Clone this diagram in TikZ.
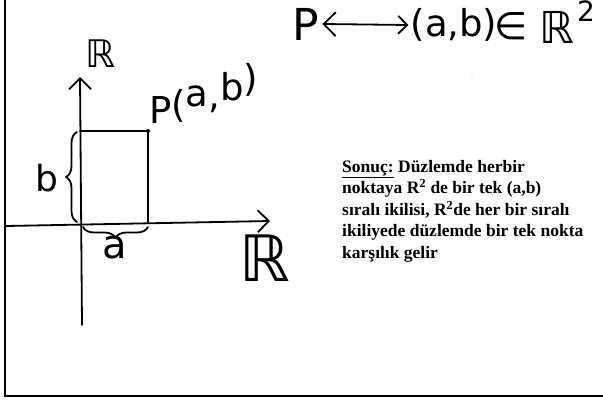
\documentclass[tikz,border=0pt]{standalone}
\usepackage{fontspec}
\setmainfont{Liberation Serif}
\newfontfamily\handfont{DejaVu Sans}
\usetikzlibrary{decorations.pathreplacing,arrows.meta}
\begin{document}
\begin{tikzpicture}[x=1pt,y=-1pt,
  hand/.style={line width=1.8pt, line cap=round, line join=round},
  barb/.style={-{Straight Barb[length=11pt,width=22pt,line width=1.8pt]}},
  dbarb/.style={{Straight Barb[length=12pt,width=24pt,line width=1.8pt]}-{Straight Barb[length=9pt,width=18pt,line width=1.8pt]}},
  lab/.style={inner sep=0pt, font=\handfont},
  brc/.style={hand, decorate, decoration={brace, amplitude=11pt, aspect=0.5}}]
\useasboundingbox (0,0) rectangle (603,401);
% frame
\draw[line width=2pt] (5,0) -- (5,396) -- (603,396);
% axes
\coordinate (ybot) at (82,325);
\coordinate (ytop) at (80,77);
\coordinate (xl) at (6,226);
\coordinate (xr) at (270,221);
\draw[hand, barb] (ybot) -- (ytop);
\draw[hand, barb] (xl) -- (xr);
% rectangle to P
\coordinate (P) at (148,131);
\coordinate (Py) at (80,131);
\coordinate (Px) at (148,222);
\draw[hand] (Py) -- (P) -- (Px);
\fill (P) circle (2);
% braces
\draw[brc] (77,222) -- (77,132);
\draw[brc] (148,227) -- (83,227);
% labels
\node[lab] (ylab) at (101,54) {\fontsize{38}{38}\selectfont ℝ};
\node[lab] (xlab) at (265,258) {\fontsize{64}{64}\selectfont ℝ};
\node[lab, anchor=base west] (plab) at (149,124) {\fontsize{37}{37}\selectfont P\raisebox{6pt}{(}\raisebox{17pt}{a}\raisebox{15pt}{,}\raisebox{23pt}{b}\raisebox{32pt}{)}};
\node[lab] (blab) at (47,178) {\fontsize{36}{36}\selectfont b};
\node[lab] (alab) at (115,248) {\fontsize{40}{40}\selectfont a};
% top formula
\node[lab] (Pt) at (306,24) {\fontsize{44}{44}\selectfont P};
\node[lab] (ab) at (454,25) {\fontsize{37}{37}\selectfont (a,b)};
\node[lab] (in) at (511,26) {\fontsize{38}{38}\selectfont ∈};
\node[lab] (R2) at (557,27) {\fontsize{44}{44}\selectfont ℝ};
\node[lab] (two) at (586,11) {\fontsize{28}{28}\selectfont 2};
\draw[hand, dbarb] (Pt.east) ++(3,0) coordinate (ps) (ps) -- ([xshift=-2pt]ab.west);
% speck
\fill[gray!70] (472,75) circle (0.7);
% text
\node[anchor=north west, align=left, inner sep=0pt, font=\bfseries\fontsize{17.5}{21.5}\selectfont] (txt) at (342,160)
{\underline{Sonuç:} Düzlemde herbir\\
noktaya R\textsuperscript{2} de bir tek (a,b)\\
sıralı ikilisi, R\textsuperscript{2}de her bir sıralı\\
ikiliyede düzlemde bir tek nokta\\
karşılık gelir};
\end{tikzpicture}
\end{document}
